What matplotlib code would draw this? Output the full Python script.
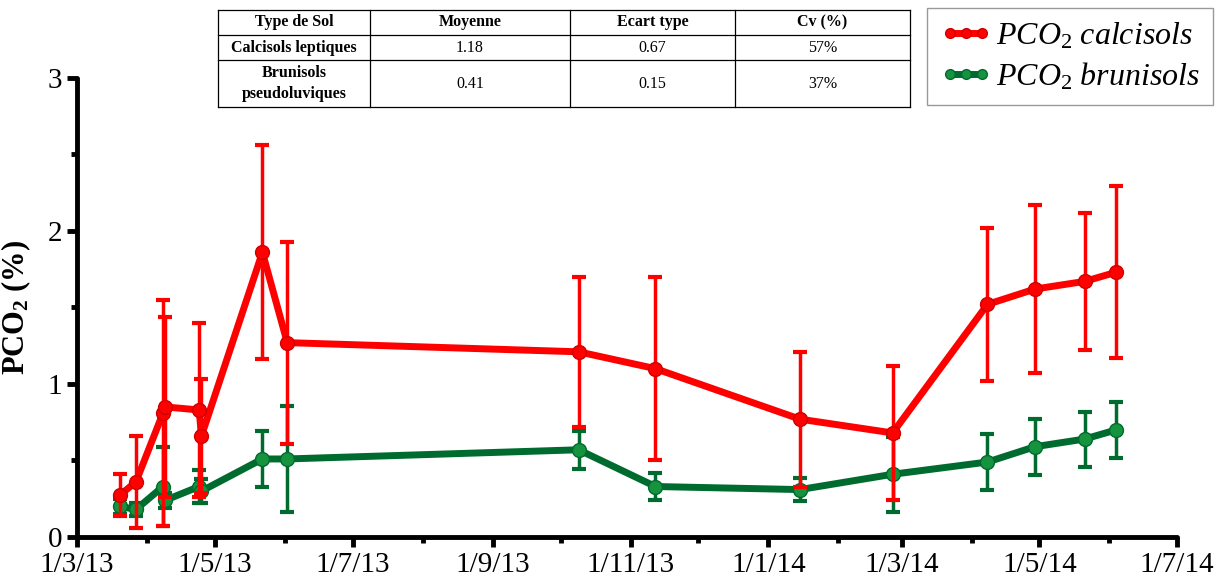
import matplotlib
matplotlib.use("Agg")
import matplotlib.pyplot as plt
import matplotlib.dates as mdates
from matplotlib.ticker import FuncFormatter, MultipleLocator
from matplotlib.lines import Line2D
import pandas as pd

plt.rcParams['font.family'] = ['Liberation Serif', 'DejaVu Serif']
plt.rcParams['mathtext.fontset'] = 'custom'
plt.rcParams['mathtext.rm'] = 'Liberation Serif'
plt.rcParams['mathtext.it'] = 'Liberation Serif:italic'
plt.rcParams['mathtext.bf'] = 'Liberation Serif:bold'

# sampling dates
dates = pd.to_datetime([
    '2013-03-20', '2013-03-27', '2013-04-08', '2013-04-09', '2013-04-24',
    '2013-04-25', '2013-05-22', '2013-06-02', '2013-10-09', '2013-11-12',
    '2014-01-15', '2014-02-25', '2014-04-08', '2014-04-29', '2014-05-21',
    '2014-06-04'])

pco2_calcisols = [0.275, 0.36, 0.81, 0.85, 0.83, 0.66, 1.86, 1.27, 1.21, 1.10,
                  0.77, 0.68, 1.52, 1.62, 1.67, 1.73]
err_calcisols = [0.14, 0.30, 0.74, 0.59, 0.57, 0.37, 0.70, 0.66, 0.49, 0.60,
                 0.44, 0.44, 0.50, 0.55, 0.45, 0.56]

pco2_brunisols = [0.20, 0.18, 0.33, 0.24, 0.33, 0.30, 0.51, 0.51, 0.57, 0.33,
                  0.31, 0.41, 0.49, 0.59, 0.64, 0.70]
err_brunisols = [0.05, 0.04, 0.26, 0.05, 0.11, 0.08, 0.18, 0.345, 0.125, 0.087,
                 0.075, 0.245, 0.185, 0.183, 0.18, 0.185]

# summary table
table_header = ['Type de Sol', 'Moyenne', 'Ecart type', 'Cv (%)']
table_soils = ['Calcisols leptiques', 'Brunisols\npseudoluviques']
table_mean = ['1.18', '0.41']
table_std = ['0.67', '0.15']
table_cv = ['57%', '37%']

RED = '#ff0000'
GREEN = '#006b2e'
GREEN_MK = '#15933f'

fig = plt.figure(figsize=(12.25, 5.85), dpi=100)
ax = fig.add_axes([0.063, 0.082, 0.898, 0.785])

ax.errorbar(dates, pco2_brunisols, yerr=err_brunisols, color=GREEN, lw=5,
            marker='o', ms=10, mfc=GREEN_MK, mec=GREEN, ecolor=GREEN,
            elinewidth=2.5, capsize=5, capthick=3, zorder=2)
ax.errorbar(dates, pco2_calcisols, yerr=err_calcisols, color=RED, lw=5,
            marker='o', ms=10, mfc=RED, mec='#d00000', ecolor=RED,
            elinewidth=2.5, capsize=5, capthick=3, zorder=3)

ax.set_xlim(pd.Timestamp('2013-03-01'), pd.Timestamp('2014-07-01'))
ax.set_ylim(0, 3)
ax.xaxis.set_major_locator(mdates.MonthLocator(bymonth=[1, 3, 5, 7, 9, 11]))
ax.xaxis.set_minor_locator(mdates.MonthLocator())
ax.xaxis.set_major_formatter(FuncFormatter(
    lambda v, p: '{}/{}/{}'.format(mdates.num2date(v).day, mdates.num2date(v).month,
                                   mdates.num2date(v).year % 100)))
ax.yaxis.set_major_locator(MultipleLocator(1))
ax.yaxis.set_minor_locator(MultipleLocator(0.5))

for s in ['top', 'right']:
    ax.spines[s].set_visible(False)
for s in ['left', 'bottom']:
    ax.spines[s].set_linewidth(3.5)
    ax.spines[s].set_capstyle('round')
ax.tick_params(which='major', length=7, width=3.5, labelsize=21, pad=4)
ax.tick_params(which='minor', length=4, width=3.5)
ax.set_ylabel(r'$\mathbf{PCO_2}$ (%)', fontsize=22, fontweight='bold', labelpad=10)

# legend
handles = [Line2D([], [], color=RED, lw=5, marker='o', ms=7, mfc=RED, mec='#d00000'),
           Line2D([], [], color=GREEN, lw=5, marker='o', ms=7, mfc=GREEN_MK, mec=GREEN)]
fig.legend(handles, [r'$PCO_2\ calcisols$', r'$PCO_2\ brunisols$'],
           loc='upper left', bbox_to_anchor=(0.757, 0.986), fontsize=23,
           numpoints=3, handlelength=1.6, handletextpad=0.15, fancybox=False,
           edgecolor='#999999', framealpha=1, borderpad=0.4, labelspacing=0.3,
           borderaxespad=0)

# table drawn in pixel units
tab = fig.add_axes([218 / 1225, 1 - 107 / 585, 692 / 1225, 97 / 585])
tab.set_xlim(0, 692)
tab.set_ylim(97, 0)
tab.axis('off')
col_edges = [0, 152, 352, 517, 692]
row_edges = [0, 25, 50, 97]
for x in col_edges:
    tab.plot([x, x], [0, 97], color='black', lw=0.9, clip_on=False)
for y in row_edges:
    tab.plot([0, 692], [y, y], color='black', lw=0.9, clip_on=False)
rows = [table_header] + [[table_soils[i], table_mean[i], table_std[i], table_cv[i]]
                         for i in range(len(table_soils))]
for r, row in enumerate(rows):
    yc = (row_edges[r] + row_edges[r + 1]) / 2
    for c, txt in enumerate(row):
        xc = (col_edges[c] + col_edges[c + 1]) / 2
        bold = r == 0 or c == 0
        tab.text(xc, yc, txt, ha='center', va='center', fontsize=11.5,
                 fontweight='bold' if bold else 'normal', linespacing=1.35)

fig.savefig('out.png', dpi=100)
